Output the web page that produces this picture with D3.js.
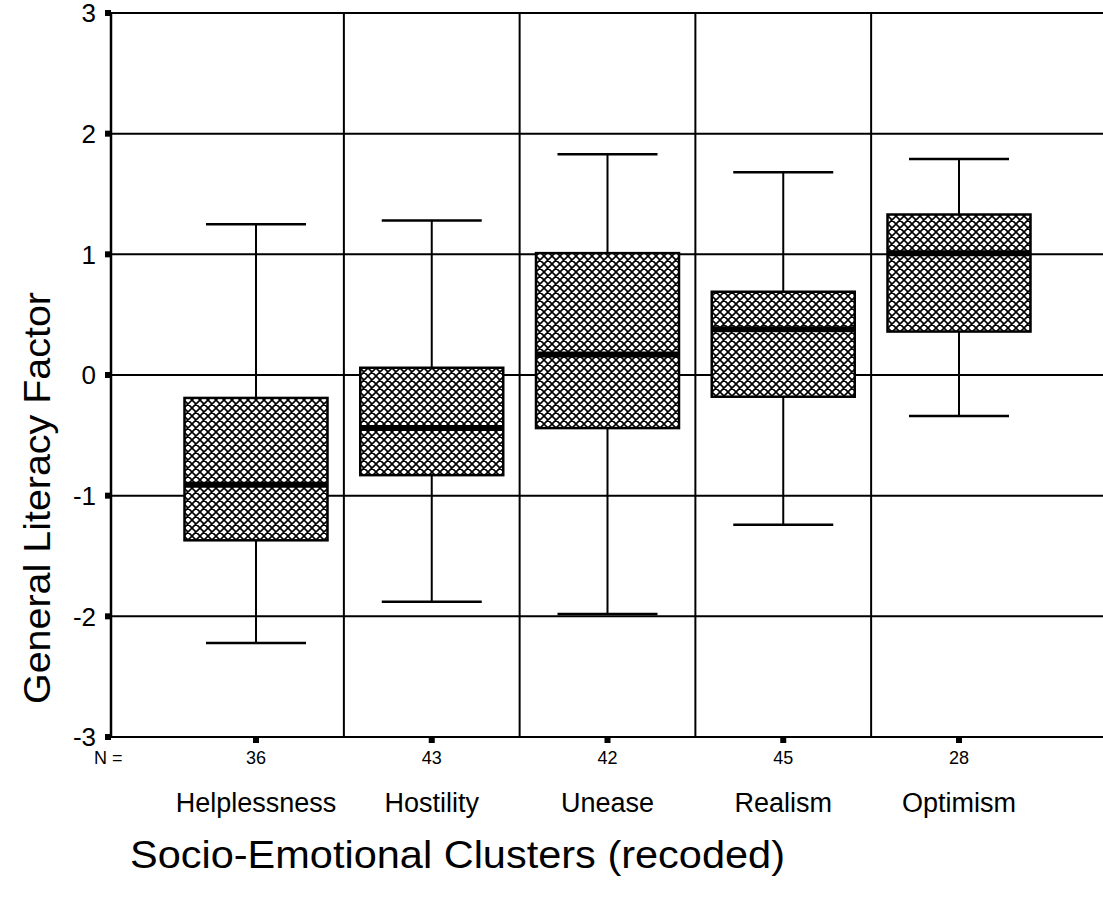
<!DOCTYPE html>
<meta charset="utf-8">
<script src="https://d3js.org/d3.v7.min.js"></script>
<style>
  body { margin: 0; background: #fff; }
  text { font-family: "Liberation Sans", Arial, sans-serif; fill: #000; }
</style>
<svg id="chart" width="1103" height="913"></svg>
<script>

// data
var clusters = ["Helplessness", "Hostility", "Unease", "Realism", "Optimism"]
var counts   = [36, 43, 42, 45, 28]
var whiskLo  = [-2.22, -1.88, -1.98, -1.24, -0.34]
var q1       = [-1.37, -0.83, -0.44, -0.18, 0.36]
var medians  = [-0.91, -0.44, 0.17, 0.38, 1.01]
var q3       = [-0.19, 0.06, 1.01, 0.69, 1.33]
var whiskHi  = [1.25, 1.28, 1.83, 1.68, 1.79]
var yTicks   = [-3, -2, -1, 0, 1, 2, 3]

var boxes = clusters.map(function(c, i) {
  return {name: c, n: counts[i], lo: whiskLo[i], q1: q1[i], med: medians[i], q3: q3[i], hi: whiskHi[i]}
})

var svg = d3.select("#chart")
var pLeft = 111, pRight = 1115, pTop = 13, pBottom = 737

var y = d3.scaleLinear().domain([-3, 3]).range([pBottom, pTop])
var x = d3.scalePoint().domain(clusters).range([256, 959])
var step = x.step()
var boxW = 143, capW = 100

// crosshatch fill
var pat = svg.append("defs").append("pattern")
  .attr("id", "hatch")
  .attr("patternUnits", "userSpaceOnUse")
  .attr("width", 8).attr("height", 8)
pat.append("rect").attr("width", 8).attr("height", 8).attr("fill", "#fff")
pat.append("path").attr("d", "M-1,1 l2,-2 M0,8 l8,-8 M7,9 l2,-2 M-1,7 l2,2 M0,0 l8,8 M7,-1 l2,2")
  .attr("stroke", "#000").attr("stroke-width", 1.6)

// horizontal grid
svg.append("g").selectAll("line")
  .data(yTicks)
  .join("line")
    .attr("x1", pLeft).attr("x2", pRight)
    .attr("y1", function(d){ return y(d) }).attr("y2", function(d){ return y(d) })
    .attr("stroke", "#000").attr("stroke-width", 2)

// vertical grid between clusters
svg.append("g").selectAll("line")
  .data(clusters.slice(1))
  .join("line")
    .attr("x1", function(d){ return x(d) - step / 2 }).attr("x2", function(d){ return x(d) - step / 2 })
    .attr("y1", pTop).attr("y2", pBottom)
    .attr("stroke", "#000").attr("stroke-width", 2)

// y axis line
svg.append("line")
  .attr("x1", pLeft).attr("x2", pLeft).attr("y1", pTop - 1).attr("y2", pBottom + 1)
  .attr("stroke", "#000").attr("stroke-width", 2.5)

// y tick squares + labels
var yt = svg.append("g").selectAll("g").data(yTicks).join("g")
  .attr("transform", function(d){ return "translate(0," + y(d) + ")" })
yt.append("rect").attr("x", pLeft - 6).attr("y", -3).attr("width", 6).attr("height", 6).attr("fill", "#000")
yt.append("text")
  .attr("x", 96).attr("dy", "0.36em")
  .attr("text-anchor", "end")
  .style("font-size", "26px")
  .text(function(d){ return d })

// x tick squares
svg.append("g").selectAll("rect").data(clusters).join("rect")
  .attr("x", function(d){ return x(d) - 3 }).attr("y", pBottom)
  .attr("width", 6).attr("height", 6).attr("fill", "#000")

// whiskers
var g = svg.append("g").selectAll("g").data(boxes).join("g")
g.append("line")
  .attr("x1", function(d){ return x(d.name) }).attr("x2", function(d){ return x(d.name) })
  .attr("y1", function(d){ return y(d.hi) }).attr("y2", function(d){ return y(d.lo) })
  .attr("stroke", "#000").attr("stroke-width", 2)
g.selectAll(".cap").data(function(d){ return [{name: d.name, v: d.hi}, {name: d.name, v: d.lo}] })
  .join("line")
    .attr("x1", function(d){ return x(d.name) - capW / 2 }).attr("x2", function(d){ return x(d.name) + capW / 2 })
    .attr("y1", function(d){ return y(d.v) }).attr("y2", function(d){ return y(d.v) })
    .attr("stroke", "#000").attr("stroke-width", 2.5)

// boxes
g.append("rect")
  .attr("x", function(d){ return x(d.name) - boxW / 2 })
  .attr("y", function(d){ return y(d.q3) })
  .attr("width", boxW)
  .attr("height", function(d){ return y(d.q1) - y(d.q3) })
  .attr("fill", "url(#hatch)")
  .attr("stroke", "#000").attr("stroke-width", 2.5)

// medians
g.append("line")
  .attr("x1", function(d){ return x(d.name) - boxW / 2 }).attr("x2", function(d){ return x(d.name) + boxW / 2 })
  .attr("y1", function(d){ return y(d.med) }).attr("y2", function(d){ return y(d.med) })
  .attr("stroke", "#000").attr("stroke-width", 6)

// N labels
svg.append("text").attr("x", 94).attr("y", 764).style("font-size", "18px").text("N =")
svg.append("g").selectAll("text").data(boxes).join("text")
  .attr("x", function(d){ return x(d.name) }).attr("y", 764)
  .attr("text-anchor", "middle").style("font-size", "18px")
  .text(function(d){ return d.n })

// category labels
svg.append("g").selectAll("text").data(clusters).join("text")
  .attr("x", function(d){ return x(d) }).attr("y", 812)
  .attr("text-anchor", "middle").style("font-size", "27px")
  .text(function(d){ return d })

// axis titles
svg.append("text")
  .attr("transform", "translate(50,498) rotate(-90)")
  .attr("text-anchor", "middle").style("font-size", "37px")
  .attr("textLength", 412).attr("lengthAdjust", "spacingAndGlyphs")
  .text("General Literacy Factor")
svg.append("text")
  .attr("x", 130).attr("y", 868)
  .style("font-size", "38px")
  .attr("textLength", 655).attr("lengthAdjust", "spacingAndGlyphs")
  .text("Socio-Emotional Clusters (recoded)")

</script>
